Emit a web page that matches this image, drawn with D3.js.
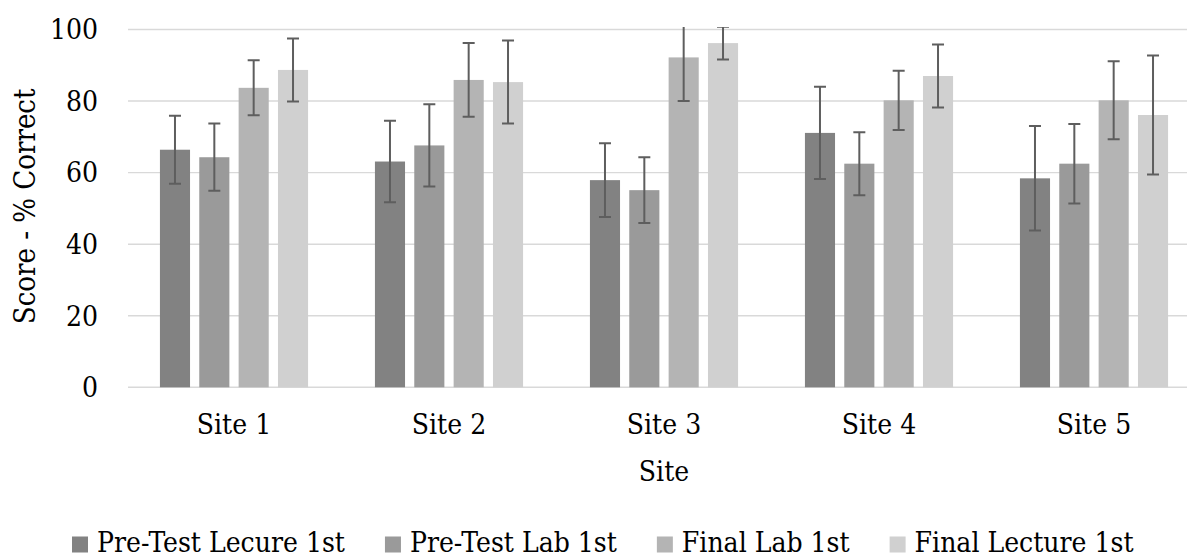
<!DOCTYPE html>
<html>
<head>
<meta charset="utf-8">
<script src="https://cdn.jsdelivr.net/npm/d3@7"></script>
<style>
  body { margin: 0; background: #fff; }
</style>
</head>
<body>
<svg id="chart" width="1187" height="558" font-family="'DejaVu Serif Condensed', 'DejaVu Serif', serif" font-stretch="condensed"></svg>
<script>
const sites = ['Site 1', 'Site 2', 'Site 3', 'Site 4', 'Site 5'];
const seriesNames = ['Pre-Test Lecure 1st', 'Pre-Test Lab 1st', 'Final Lab 1st', 'Final Lecture 1st'];
const seriesColors = ['#828282', '#9a9a9a', '#b4b4b4', '#d0d0d0'];

// mean score per site, one array per series
const preLecture = [66.4, 63.1, 57.9, 71.1, 58.4];
const preLab = [64.3, 67.6, 55.1, 62.5, 62.5];
const finalLab = [83.7, 85.9, 92.2, 80.2, 80.2];
const finalLecture = [88.7, 85.3, 96.2, 87.0, 76.1];

// error bar half-widths
const preLectureErr = [9.5, 11.4, 10.3, 12.9, 14.6];
const preLabErr = [9.4, 11.5, 9.2, 8.8, 11.1];
const finalLabErr = [7.7, 10.3, 12.2, 8.3, 10.9];
const finalLectureErr = [8.8, 11.6, 4.6, 8.8, 16.6];

const yTicks = [0, 20, 40, 60, 80, 100];
const FS = '28px';

main();

function main () {
  const svg = d3.select('#chart');
  const means = [preLecture, preLab, finalLab, finalLecture];
  const errs = [preLectureErr, preLabErr, finalLabErr, finalLectureErr];

  const x0 = d3.scaleBand()
    .domain(sites)
    .range([126.5, 1201.5])
    .paddingInner(0.311)
    .paddingOuter(0.1555);

  const x1 = d3.scaleBand()
    .domain(seriesNames)
    .range([0, x0.bandwidth()])
    .paddingInner(0.235);

  const y = d3.scaleLinear().domain([0, 100]).range([387.3, 29.5]);

  drawGrid(svg, x0, y);
  drawBars(svg, x0, x1, y, means, errs);
  drawAxes(svg, x0, y);
  drawLegend(svg);
}

function drawGrid (svg, x0, y) {
  svg.append('g').selectAll('line')
    .data(yTicks)
    .join('line')
    .attr('x1', 128)
    .attr('x2', x0.range()[1])
    .attr('y1', d => y(d))
    .attr('y2', d => y(d))
    .attr('stroke', '#d9d9d9')
    .attr('stroke-width', 1.4);
}

function drawBars (svg, x0, x1, y, means, errs) {
  // error bars above 100 are cut off at the plot edge
  svg.append('clipPath').attr('id', 'plot-clip')
    .append('rect')
    .attr('x', 0)
    .attr('y', y(100) - 2.5)
    .attr('width', 1187)
    .attr('height', y(0) - y(100) + 2.5);

  const rows = [];
  seriesNames.forEach((name, si) => {
    sites.forEach((site, i) => {
      rows.push({ site: site, series: name, si: si, value: means[si][i], err: errs[si][i] });
    });
  });

  svg.append('g').selectAll('rect')
    .data(rows)
    .join('rect')
    .attr('x', d => x0(d.site) + x1(d.series))
    .attr('y', d => y(d.value))
    .attr('width', x1.bandwidth())
    .attr('height', d => y(0) - y(d.value))
    .attr('fill', d => seriesColors[d.si]);

  const capW = 12;
  const eg = svg.append('g')
    .attr('clip-path', 'url(#plot-clip)')
    .attr('stroke', '#5e5e5e')
    .attr('stroke-width', 2);

  for (const d of rows) {
    const cx = x0(d.site) + x1(d.series) + x1.bandwidth() / 2;
    const top = y(d.value + d.err);
    const bot = y(d.value - d.err);
    eg.append('line').attr('x1', cx).attr('x2', cx).attr('y1', top).attr('y2', bot);
    eg.append('line').attr('x1', cx - capW / 2).attr('x2', cx + capW / 2).attr('y1', top).attr('y2', top);
    eg.append('line').attr('x1', cx - capW / 2).attr('x2', cx + capW / 2).attr('y1', bot).attr('y2', bot);
  }
}

function drawAxes (svg, x0, y) {
  svg.append('g').selectAll('text')
    .data(yTicks)
    .join('text')
    .text(d => d)
    .attr('x', 98)
    .attr('y', d => y(d))
    .attr('dy', '0.35em')
    .attr('text-anchor', 'end')
    .attr('font-size', FS);

  svg.append('g').selectAll('text')
    .data(sites)
    .join('text')
    .text(d => d)
    .attr('x', d => x0(d) + x0.bandwidth() / 2)
    .attr('y', 434)
    .attr('text-anchor', 'middle')
    .attr('font-size', FS);

  const midX = (x0.range()[0] + x0.range()[1]) / 2;
  svg.append('text')
    .text('Site')
    .attr('x', midX)
    .attr('y', 481)
    .attr('text-anchor', 'middle')
    .attr('font-size', FS);

  const midY = (y.range()[0] + y.range()[1]) / 2;
  svg.append('text')
    .text('Score - % Correct')
    .attr('text-anchor', 'middle')
    .attr('font-size', '29px')
    .attr('transform', `translate(35,${midY - 2}) rotate(-90)`);
}

function drawLegend (svg) {
  let x = 72;
  const baseY = 552;
  seriesNames.forEach((name, i) => {
    svg.append('rect')
      .attr('x', x)
      .attr('y', baseY - 15.5)
      .attr('width', 16)
      .attr('height', 16)
      .attr('fill', seriesColors[i]);
    const t = svg.append('text')
      .text(name)
      .attr('x', x + 25)
      .attr('y', baseY)
      .attr('font-size', FS);
    x = x + 25 + t.node().getComputedTextLength() + 40;
  });
}
</script>
</body>
</html>
